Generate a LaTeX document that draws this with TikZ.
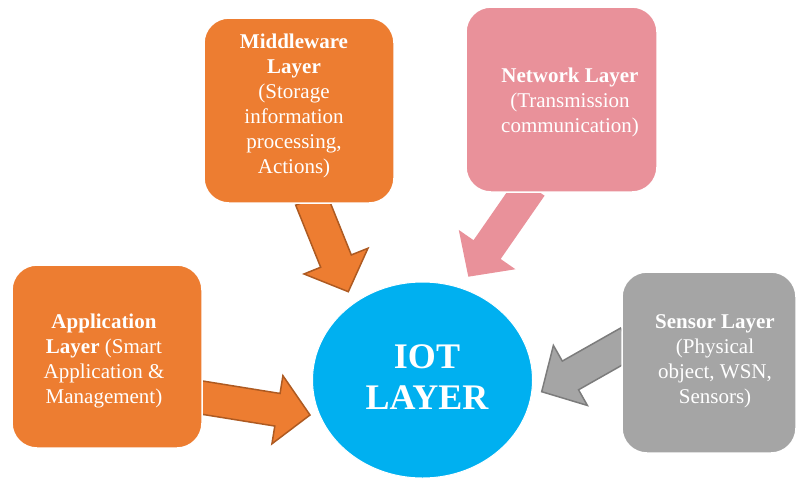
\documentclass[tikz,border=0pt]{standalone}
\usepackage{fontspec}
\setmainfont{Liberation Serif}
\usetikzlibrary{calc,shapes.geometric}
\definecolor{orangeF}{HTML}{ED7D31}
\definecolor{orangeD}{HTML}{AE5A21}
\definecolor{pinkF}{HTML}{E9919A}
\definecolor{grayF}{HTML}{A5A5A5}
\definecolor{grayD}{HTML}{7C7C7C}
\definecolor{blueF}{HTML}{00B0F0}
\newcommand\shaftw{16.5pt}
\newcommand\headw{34.5pt}
\newcommand\headlen{33pt}
\newcommand\blockarrow[4]{%
  \coordinate (#2b) at ($(#4)!\headlen!(#3)$);
  \path[#1] ($(#3)!\shaftw!90:(#4)$) -- ($(#2b)!\shaftw!90:(#4)$) -- ($(#2b)!\headw!90:(#4)$) -- (#4)
    -- ($(#2b)!\headw!-90:(#4)$) -- ($(#2b)!\shaftw!-90:(#4)$) -- ($(#3)!\shaftw!-90:(#4)$) -- cycle;}
\begin{document}
\begin{tikzpicture}[x=1pt,y=-1pt,
  layerbox/.style={rounded corners=25pt, draw=white, line width=1.5pt, inner sep=0pt},
  labeltext/.style={anchor=base, inner sep=0pt, text=white},
  orangearrow/.style={fill=orangeF, draw=orangeD, line width=1.5pt, line join=miter},
  pinkarrow/.style={fill=pinkF, line join=miter},
  grayarrow/.style={fill=grayF, draw=grayD, line width=1.5pt, line join=miter}]
\useasboundingbox (0,0) rectangle (799,480);
% arrow end points
\coordinate (mwS) at (311,199);   \coordinate (mwE) at (348.3,291.7);
\coordinate (nwS) at (531,186.3); \coordinate (nwE) at (468.3,276.7);
\coordinate (apS) at (191.6,395.9); \coordinate (apE) at (310,415);
\coordinate (seS) at (628.7,342.4); \coordinate (seE) at (541.7,391.7);
% arrows
\blockarrow{orangearrow}{mw}{mwS}{mwE}
\blockarrow{pinkarrow}{nw}{nwS}{nwE}
\blockarrow{orangearrow}{ap}{apS}{apE}
\blockarrow{grayarrow}{se}{seS}{seE}
% boxes
\node[layerbox, fill=orangeF, minimum width=190pt, minimum height=185pt] (middleware) at (299,110.5) {};
\node[layerbox, fill=pinkF, minimum width=191pt, minimum height=185pt] (network) at (561.5,99.5) {};
\node[layerbox, fill=orangeF, minimum width=190pt, minimum height=183pt] (application) at (107,356.5) {};
\node[layerbox, fill=grayF, minimum width=174pt, minimum height=181pt] (sensor) at (709,362.5) {};
\node[ellipse, fill=blueF, draw=white, line width=1pt, minimum width=220pt, minimum height=196pt, inner sep=0pt] (iot) at (422.5,380) {};
% texts
\node[labeltext] (mwtext) at (294,48) {\parbox[t]{180pt}{\centering\fontsize{21}{25}\selectfont
  \textbf{Middleware}\\\textbf{Layer}\\(Storage\\information\\processing,\\Actions)}};
\node[labeltext] (nwtext) at (570,82) {\parbox[t]{180pt}{\centering\fontsize{21}{25}\selectfont
  \textbf{Network Layer}\\(Transmission\\communication)}};
\node[labeltext] (aptext) at (104,328) {\parbox[t]{180pt}{\centering\fontsize{21}{25}\selectfont
  \textbf{Application}\\\textbf{Layer} (Smart\\Application \&\\Management)}};
\node[labeltext] (setext) at (715,328) {\parbox[t]{170pt}{\centering\fontsize{21}{25}\selectfont
  \textbf{Sensor Layer}\\(Physical\\object, WSN,\\Sensors)}};
\node[labeltext] (iottext) at (427,368) {\parbox[t]{200pt}{\centering\fontsize{36}{41}\selectfont\bfseries
  IOT\\LAYER}};
\end{tikzpicture}
\end{document}
